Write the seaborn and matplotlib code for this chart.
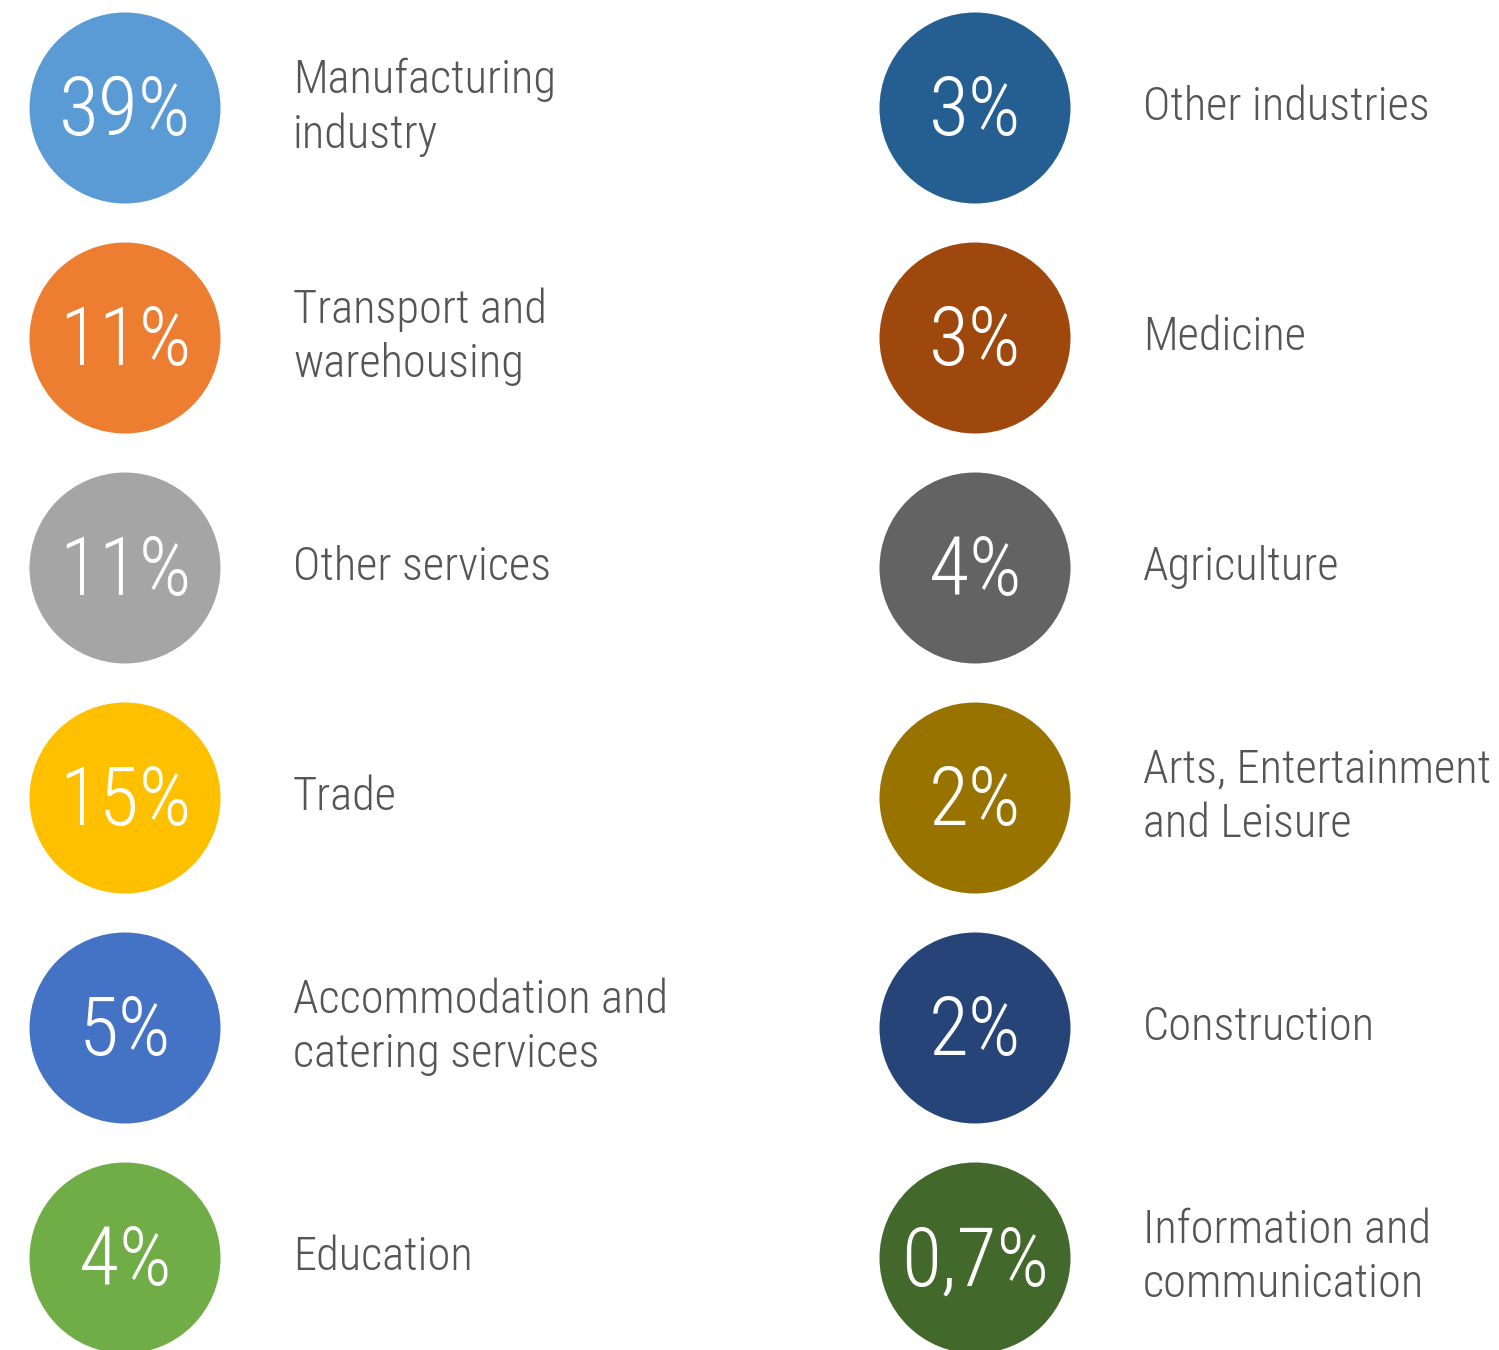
import matplotlib
matplotlib.use("Agg")
import matplotlib.pyplot as plt
from matplotlib import font_manager
import seaborn as sns
import pandas as pd

# Sector shares, two columns of six
left_sectors = ["Manufacturing\nindustry", "Transport and\nwarehousing", "Other services",
                "Trade", "Accommodation and\ncatering services", "Education"]
left_shares = [39, 11, 11, 15, 5, 4]
left_colors = ["#5B9BD5", "#ED7D31", "#A5A5A5", "#FFC000", "#4472C4", "#70AD47"]

right_sectors = ["Other industries", "Medicine", "Agriculture",
                 "Arts, Entertainment\nand Leisure", "Construction", "Information and\ncommunication"]
right_shares = [3, 3, 4, 2, 2, 0.7]
right_colors = ["#255E91", "#9E480E", "#636363", "#997300", "#264478", "#43682B"]


def pick_font():
    names = {f.name for f in font_manager.fontManager.ttflist}
    for cand in ["Roboto Condensed", "Liberation Sans Narrow", "DejaVu Sans Condensed"]:
        if cand in names:
            return cand
    return "DejaVu Sans"


FONT = pick_font()


def fmt_share(v):
    s = f"{v:g}".replace(".", ",")
    return s + "%"


rows = []
for col, (sectors, shares, colors) in enumerate(
        [(left_sectors, left_shares, left_colors), (right_sectors, right_shares, right_colors)]):
    for r, (name, val, c) in enumerate(zip(sectors, shares, colors)):
        rows.append({"sector": name, "share": val, "color": c, "col": col, "row": r})
df = pd.DataFrame(rows)

W, H, DPI = 1499, 1350, 100
COL_X = [125, 975]
ROW_Y0, ROW_STEP = 108, 230
LABEL_DX = 168
df["x"] = df["col"].map(lambda c: COL_X[c])
df["y"] = ROW_Y0 + df["row"] * ROW_STEP

sns.set_theme(style="white")
plt.rcParams["font.family"] = [FONT, "DejaVu Sans"]

fig = plt.figure(figsize=(W / DPI, H / DPI), dpi=DPI)
ax = fig.add_axes([0, 0, 1, 1])

diam_pt = 191 / DPI * 72
palette = dict(zip(df["sector"], df["color"]))
sns.scatterplot(data=df, x="x", y="y", hue="sector", palette=palette, s=diam_pt ** 2,
                linewidth=0, legend=False, ax=ax, clip_on=True)

for _, rw in df.iterrows():
    ax.text(rw["x"], rw["y"] + 5, fmt_share(rw["share"]), color="white", fontsize=59,
            fontweight="light", ha="center", va="center")
    ax.text(rw["x"] + LABEL_DX, rw["y"] - 1, rw["sector"], color="#555555", fontsize=33.5,
            fontweight="light", ha="left", va="center", linespacing=1.3)

ax.set_xlim(0, W)
ax.set_ylim(H, 0)
ax.set_axis_off()
fig.savefig("out.png", dpi=DPI, facecolor="white")
